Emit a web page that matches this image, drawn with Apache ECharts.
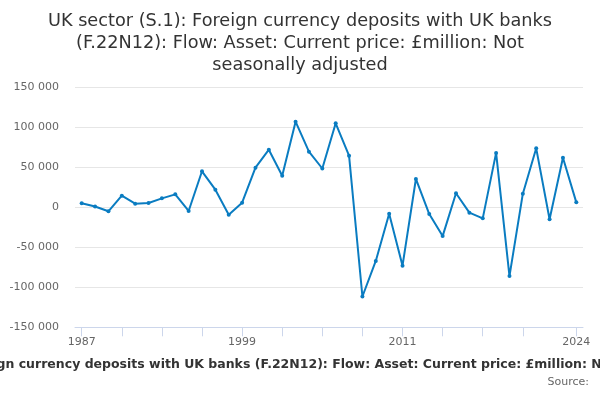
<!DOCTYPE html>
<html>
<head>
<meta charset="utf-8">
<script src="https://cdn.jsdelivr.net/npm/echarts@6/dist/echarts.min.js"></script>
<style>html,body{margin:0;padding:0;background:#fff}#c{width:600px;height:400px}</style>
</head>
<body>
<div id="c"></div>
<script>
const years = ['1987','1988','1989','1990','1991','1992','1993','1994','1995','1996','1997','1998','1999','2000','2001','2002','2003','2004','2005','2006','2007','2008','2009','2010','2011','2012','2013','2014','2015','2016','2017','2018','2019','2020','2021','2022','2023','2024'];
const values = [5000, 1000, -5000, 14500, 4500, 5400, 11200, 16200, -4600, 45000, 22000, -9200, 5800, 49500, 72000, 39500, 107000, 69500, 48500, 105000, 64500, -111500, -67000, -8000, -73000, 35400, -8400, -36000, 17500, -6700, -13800, 68000, -86000, 17000, 73700, -15000, 62000, 6200];
const yTicks = [-150000, -100000, -50000, 0, 50000, 100000, 150000];
const tickYears = ['1987','1990','1993','1996','1999','2002','2005','2008','2011','2014','2017','2020','2024'];
const labelYears = ['1987','1999','2011','2024'];
const titleText = 'UK sector (S.1): Foreign currency deposits with UK banks\n(F.22N12): Flow: Asset: Current price: £million: Not\nseasonally adjusted';
const axisTitle = 'UK sector (S.1): Foreign currency deposits with UK banks (F.22N12): Flow: Asset: Current price: £million: Not seasonally adjusted';

const chart = echarts.init(document.getElementById('c'));
chart.setOption({
  animation: false,
  backgroundColor: '#fff',
  textStyle: {fontFamily: 'DejaVu Sans'},
  title: {
    text: titleText, left: 'center', top: 5,
    textStyle: {fontFamily: 'DejaVu Sans', fontSize: 17.7, fontWeight: 'normal', color: '#333', lineHeight: 22}
  },
  grid: {left: 75, right: 17, top: 87.3, bottom: 72.7, containLabel: false, outerBoundsMode: 'none'},
  xAxis: {
    type: 'category', data: years, boundaryGap: true,
    axisLine: {onZero: false, lineStyle: {color: '#ccd6eb'}},
    axisTick: {show: true, alignWithLabel: true, length: 9, lineStyle: {color: '#ccd6eb'},
      customValues: tickYears},
    axisLabel: {color: '#666', fontSize: 11, margin: 9, customValues: labelYears}
  },
  yAxis: {
    type: 'value', min: yTicks[0], max: yTicks[yTicks.length - 1], interval: 50000,
    axisLine: {show: false}, axisTick: {show: false},
    splitLine: {lineStyle: {color: '#e6e6e6'}},
    axisLabel: {color: '#666', fontSize: 11, margin: 16,
      formatter: (v) => (v < 0 ? '-' : '') + String(Math.abs(v)).replace(/\B(?=(\d{3})+(?!\d))/g, ' ')}
  },
  series: [{
    type: 'line', data: values,
    symbol: 'circle', symbolSize: 4, showSymbol: true,
    lineStyle: {color: '#0a7cc1', width: 2},
    itemStyle: {color: '#0a7cc1'}
  }],
  graphic: [{
    type: 'text', x: 303, y: 365,
    style: {text: axisTitle, font: 'bold 12.5px "DejaVu Sans"', fill: '#333', textAlign: 'center', textVerticalAlign: 'middle'}
  }, {
    type: 'text', x: 589, y: 382,
    style: {text: 'Source:', font: '11px "DejaVu Sans"', fill: '#666', textAlign: 'right', textVerticalAlign: 'middle'}
  }]
});
</script>
</body>
</html>
